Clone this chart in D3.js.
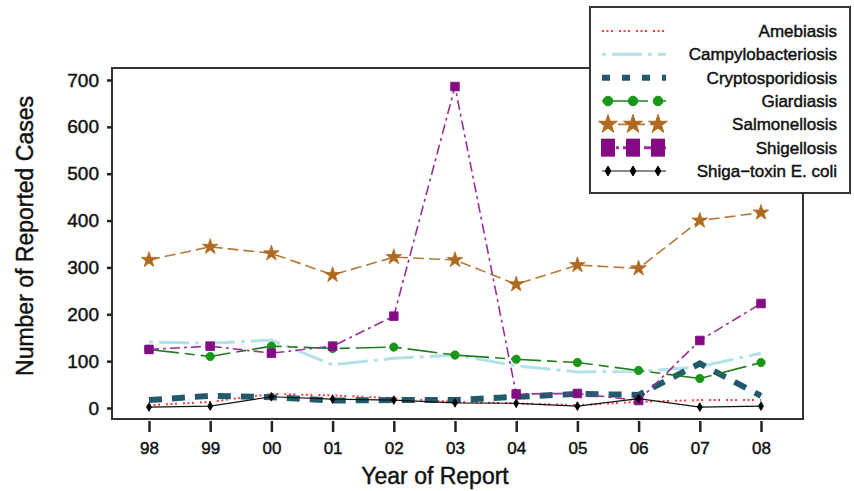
<!DOCTYPE html>
<meta charset="utf-8">
<style>
body { margin: 0; background: #fff; }
text { font-family: "Liberation Sans", Arial, sans-serif; fill: #111; stroke: #111; stroke-width: 0.45px; }
.frame { fill: none; stroke: #333; stroke-width: 2px; }
.tick line { stroke: #222; stroke-width: 2.5px; }
</style>
<body>
<script src="https://d3js.org/d3.v7.min.js"></script>
<script>

// data
var years = ["98", "99", "00", "01", "02", "03", "04", "05", "06", "07", "08"];
var yTicks = [0, 100, 200, 300, 400, 500, 600, 700];
var amebiasis         = [6, 13, 30, 27, 21, 13, 10, 6, 13, 17, 17];
var campylobacter     = [141, 138, 145, 92, 106, 113, 90, 77, 78, 88, 117];
var cryptosporidiosis = [17, 26, 23, 16, 17, 17, 24, 30, 28, 95, 26];
var giardiasis        = [125, 110, 132, 127, 130, 113, 104, 97, 80, 63, 97];
var salmonellosis     = [316, 344, 330, 284, 322, 316, 264, 305, 298, 400, 417];
var shigellosis       = [125, 132, 117, 132, 196, 686, 30, 31, 16, 144, 223];
var shigaEcoli        = [2, 4, 24, 19, 17, 11, 10, 4, 20, 2, 4];

var names = ["Amebiasis", "Campylobacteriosis", "Cryptosporidiosis", "Giardiasis",
             "Salmonellosis", "Shigellosis", "Shiga\u2212toxin E. coli"];
var values = [amebiasis, campylobacter, cryptosporidiosis, giardiasis,
              salmonellosis, shigellosis, shigaEcoli];

// how each series is drawn
var styles = [
  {color: "#ff3b3b", width: 2, dash: "2,2.5,2,2.5,2,6", symbol: null},
  {color: "#b3e1e8", width: 3, dash: "4,6,30,6", symbol: null},
  {color: "#22596b", width: 6, dash: "13,10", symbol: null},
  {color: "#1f7d1f", width: 1.6, dash: "30,6,10,6", symbol: d3.symbolCircle, size: 55, fill: "#179617"},
  {color: "#b57a35", width: 1.6, dash: "11,5", symbol: d3.symbolStar, size: 75, fill: "#b06a20"},
  {color: "#9a2f9a", width: 1.6, dash: "10,4,3,4", symbol: d3.symbolSquare, size: 75, fill: "#850b85"},
  {color: "#111", width: 1.2, dash: null, symbol: d3.symbolDiamond, size: 22, fill: "#000"}
];

var W = 854, H = 491;
var frame = {left: 112, right: 803, top: 68, bottom: 419};

var x = d3.scalePoint().domain(years).range([149, 761]);
var y = d3.scaleLinear().domain([0, 700]).range([408, 80]);

var svg = d3.select("body").append("svg")
    .attr("width", W)
    .attr("height", H);

// plot frame
svg.append("rect")
    .attr("class", "frame")
    .attr("x", frame.left)
    .attr("y", frame.top)
    .attr("width", frame.right - frame.left)
    .attr("height", frame.bottom - frame.top);

// y axis
var yAxis = svg.append("g")
    .attr("transform", "translate(" + frame.left + ",0)")
    .call(d3.axisLeft(y).tickValues(yTicks).tickSize(5).tickPadding(8).tickSizeOuter(0));
yAxis.select(".domain").remove();
yAxis.selectAll("text")
    .style("font-size", "19px")
    .attr("font-family", null);

// x axis, ticks hang below the frame
var xAxis = svg.append("g")
    .attr("transform", "translate(0," + (frame.bottom + 2) + ")")
    .call(d3.axisBottom(x).tickSize(11).tickPadding(10).tickSizeOuter(0));
xAxis.select(".domain").remove();
xAxis.selectAll("text")
    .style("font-size", "17px")
    .attr("font-family", null);

// axis titles
svg.append("text")
    .attr("x", 435)
    .attr("y", 484)
    .attr("text-anchor", "middle")
    .style("font-size", "23px")
    .text("Year of Report");

svg.append("text")
    .attr("transform", "translate(33,236) rotate(-90)")
    .attr("text-anchor", "middle")
    .style("font-size", "23px")
    .text("Number of Reported Cases");

// series lines and markers
var line = d3.line()
    .x(function(d, i) { return x(years[i]); })
    .y(function(d) { return y(d); });

values.forEach(function(vals, k) {
  var s = styles[k];
  svg.append("path")
      .datum(vals)
      .attr("fill", "none")
      .attr("stroke", s.color)
      .attr("stroke-width", s.width)
      .attr("stroke-dasharray", s.dash)
      .attr("d", line);
  if (s.symbol) {
    svg.append("g").selectAll("path")
        .data(vals)
      .join("path")
        .attr("transform", function(d, i) { return "translate(" + x(years[i]) + "," + y(d) + ")"; })
        .attr("d", d3.symbol().type(s.symbol).size(s.size))
        .attr("fill", s.fill)
        .attr("stroke", s.fill)
        .attr("stroke-width", 0.8);
  }
});

// legend
var lg = svg.append("g");
lg.append("rect")
    .attr("x", 590)
    .attr("y", 7)
    .attr("width", 260)
    .attr("height", 186)
    .attr("fill", "#fff")
    .attr("stroke", "#333")
    .attr("stroke-width", 2);

var ly = d3.scalePoint().domain(names).range([31, 171]);
var lx = [608, 633, 658];
var legendStyles = styles.map(function(s, k) {
  var o = Object.assign({}, s);
  if (k === 5) { o.width = 3; }
  return o;
});
legendStyles[2].dash = "8,12";

names.forEach(function(n, k) {
  var s = legendStyles[k];
  var cy = ly(n);
  lg.append("line")
      .attr("x1", 602).attr("x2", 666)
      .attr("y1", cy).attr("y2", cy)
      .attr("stroke", s.color)
      .attr("stroke-width", s.width)
      .attr("stroke-dasharray", s.dash);
  if (s.symbol) {
    lx.forEach(function(px) {
      if (k === 5) {
        lg.append("rect")
            .attr("x", px - 7).attr("y", cy - 9)
            .attr("width", 14).attr("height", 18)
            .attr("fill", s.fill);
      } else {
        lg.append("path")
            .attr("transform", "translate(" + px + "," + cy + ")")
            .attr("d", d3.symbol().type(s.symbol).size(k === 4 ? 110 : s.size * 1.3))
            .attr("fill", s.fill)
            .attr("stroke", s.fill);
      }
    });
  }
  lg.append("text")
      .attr("x", 837)
      .attr("y", cy + 6)
      .attr("text-anchor", "end")
      .style("font-size", "17px")
      .text(n);
});

</script>
</body>
